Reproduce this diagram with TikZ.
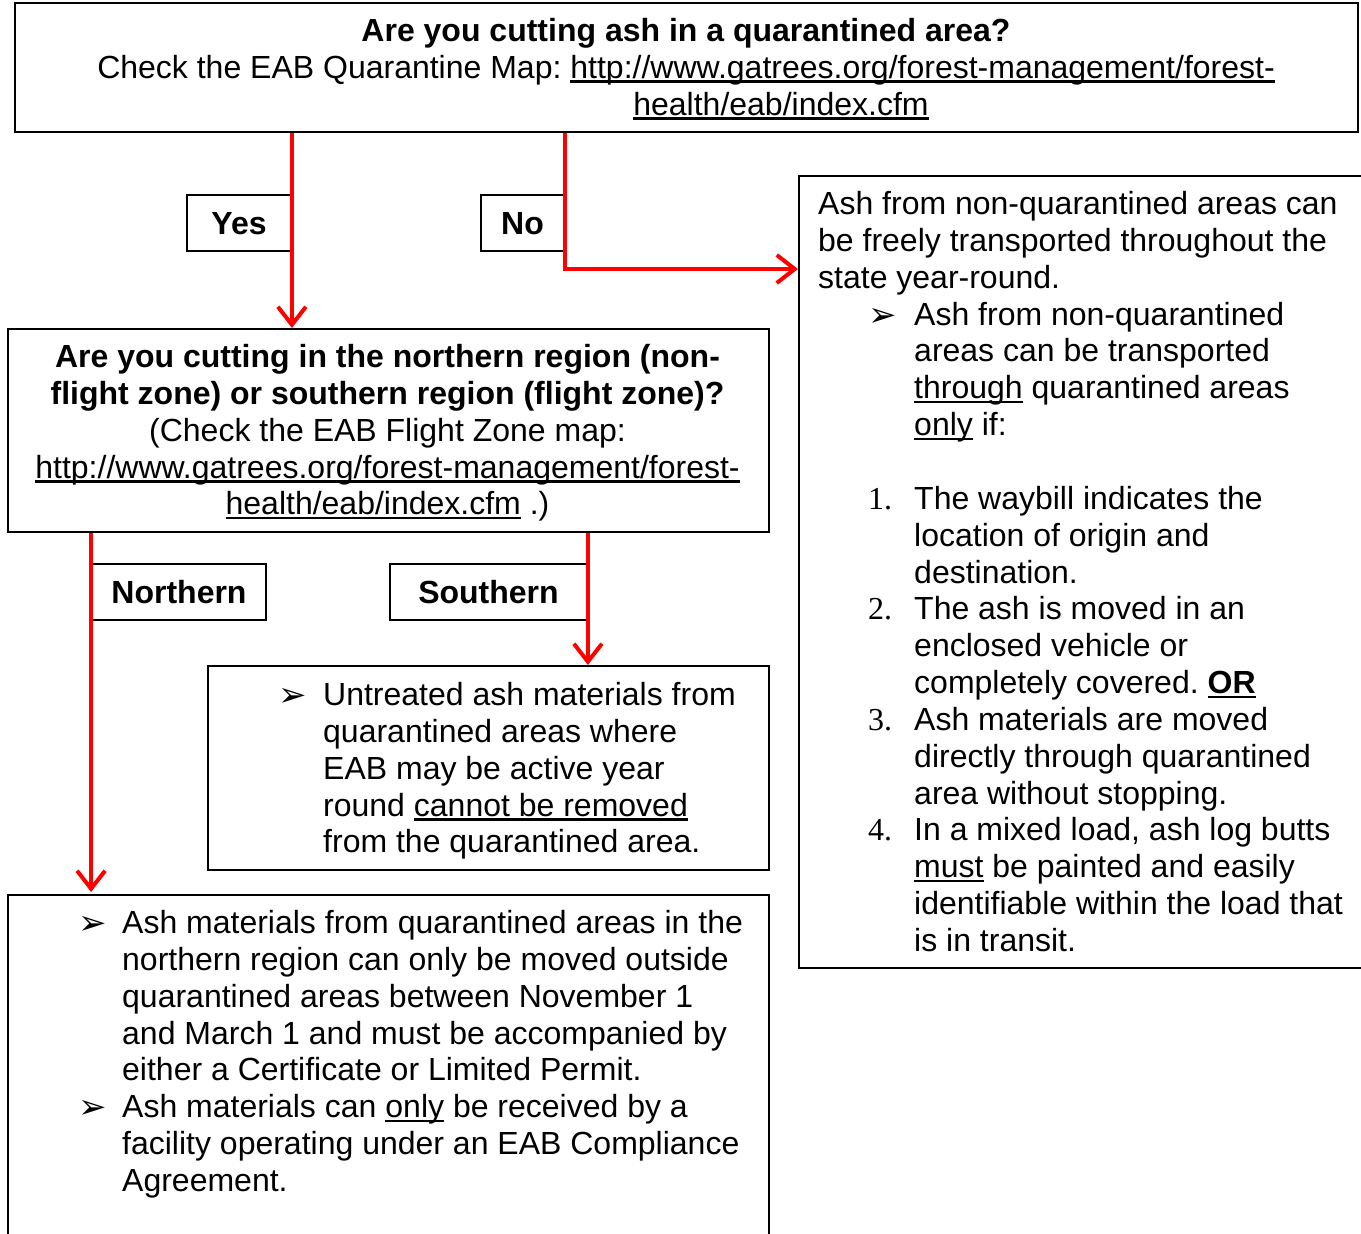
\documentclass[tikz,border=0pt]{standalone}
\usepackage{fontspec}
\setmainfont{Liberation Sans}
\newfontfamily\serifnum{Liberation Serif}
\newfontfamily\dejavu{DejaVu Sans}
\usetikzlibrary{arrows.meta}
\newsavebox\ulbox
\newcommand\myul[1]{\sbox\ulbox{#1}\rlap{\rule[-4.5pt]{\wd\ulbox}{2.4pt}}\usebox\ulbox}
\newcommand\bul{{\dejavu\fontsize{34}{34}\selectfont\raisebox{-1pt}{➢}}}
\newcommand\numb[1]{{\serifnum #1.}}
\definecolor{arrowred}{RGB}{255,0,0}
\frenchspacing
\begin{document}
\begin{tikzpicture}[x=1pt,y=-1pt,
  box/.style={draw=black, line width=1.8pt, inner sep=0pt, anchor=north west},
  lab/.style={draw=black, line width=1.8pt, inner sep=0pt, anchor=center,
    font=\fontsize{32}{36.85}\selectfont\bfseries, text height=23pt, text depth=0pt},
  txt/.style={inner sep=0pt, font=\fontsize{32}{36.85}\selectfont, anchor=base west},
  ctxt/.style={txt, anchor=base},
  conn/.style={draw=arrowred, line width=4pt,
    -{Straight Barb[length=18pt,width=28pt]}}
]
\useasboundingbox (0,0) rectangle (1361,1234);

% boxes
\node[box, minimum width=1343pt, minimum height=129pt] (top) at (14,2) {};
\node[box, minimum width=761pt, minimum height=203pt] (q2) at (7,328) {};
\node[box, minimum width=620pt, minimum height=792pt] (nores) at (798,175) {};
\node[box, minimum width=561pt, minimum height=204pt] (sres) at (207,665) {};
\node[box, minimum width=761pt, minimum height=400pt] (nres) at (7,894) {};

% labels
\node[lab, minimum width=104pt, minimum height=56pt] (yes) at (239,223) {Yes};
\node[lab, minimum width=83pt, minimum height=56pt] (no) at (522.5,223) {No};
\node[lab, minimum width=174pt, minimum height=56pt] (north) at (179,592) {Northern};
\node[lab, minimum width=197pt, minimum height=56pt] (south) at (488.5,592) {Southern};

% texts
\node[ctxt] (toptxt) at (686,41.5) {\begin{tabular}[t]{@{}c@{}}
\bfseries Are you cutting ash in a quarantined area?\\
Check the EAB Quarantine Map: \myul{http://www.gatrees.org/forest-management/forest-}\\
\hspace*{190pt}\myul{health/eab/index.cfm}
\end{tabular}};

\node[ctxt] (q2txt) at (387.5,367.5) {\begin{tabular}[t]{@{}c@{}}
\bfseries Are you cutting in the northern region (non-\\
\bfseries flight zone) or southern region (flight zone)?\\
(Check the EAB Flight Zone map:\\
\myul{http://www.gatrees.org/forest-management/forest-}\\
\myul{health/eab/index.cfm} .)
\end{tabular}};

\node[txt] (notxt1) at (818,214.5) {\begin{tabular}[t]{@{}l@{}}
Ash from non-quarantined areas can\\
be freely transported throughout the\\
state year-round.
\end{tabular}};

\node[txt] (notxt2) at (868,325.05) {\begin{tabular}[t]{@{}p{46pt}@{}l@{}}
\bul & Ash from non-quarantined\\
 & areas can be transported\\
 & \myul{through} quarantined areas\\
 & \myul{only} if:
\end{tabular}};

\node[txt] (notxt3) at (868,509.3) {\begin{tabular}[t]{@{}p{46pt}@{}l@{}}
\numb{1} & The waybill indicates the\\
 & location of origin and\\
 & destination.\\
\numb{2} & The ash is moved in an\\
 & enclosed vehicle or\\
 & completely covered. \myul{\bfseries OR}\\
\numb{3} & Ash materials are moved\\
 & directly through quarantined\\
 & area without stopping.\\
\numb{4} & In a mixed load, ash log butts\\
 & \myul{must} be painted and easily\\
 & identifiable within the load that\\
 & is in transit.
\end{tabular}};

\node[txt] (stxt) at (278,705.5) {\begin{tabular}[t]{@{}p{45pt}@{}l@{}}
\bul & Untreated ash materials from\\
 & quarantined areas where\\
 & EAB may be active year\\
 & round \myul{cannot be removed}\\
 & from the quarantined area.
\end{tabular}};

\node[txt] (ntxt) at (78,933.5) {\begin{tabular}[t]{@{}p{44pt}@{}l@{}}
\bul & Ash materials from quarantined areas in the\\
 & northern region can only be moved outside\\
 & quarantined areas between November 1\\
 & and March 1 and must be accompanied by\\
 & either a Certificate or Limited Permit.\\
\bul & Ash materials can \myul{only} be received by a\\
 & facility operating under an EAB Compliance\\
 & Agreement.
\end{tabular}};

% connectors
\coordinate (nohit) at (798,269);
\draw[conn] (top.south -| yes.east) -- (q2.north -| yes.east);
\draw[conn] (top.south -| no.east) |- (nohit);
\draw[conn] (q2.south -| north.west) -- ([yshift=2pt]nres.north -| north.west);
\draw[conn] (q2.south -| south.east) -- (sres.north -| south.east);
\end{tikzpicture}
\end{document}
